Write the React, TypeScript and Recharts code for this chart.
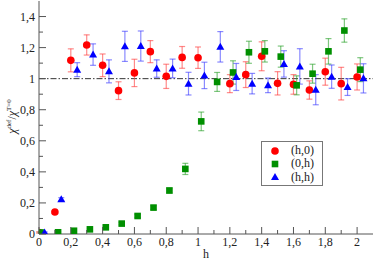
import { ErrorBar, Legend, ReferenceLine, Scatter, ScatterChart, XAxis, YAxis } from "recharts";

const RED = "#ff0000";
const GREEN = "#008f00";
const BLUE = "#0000ff";
const RED_BAR = "rgba(255,60,60,0.6)";
const GREEN_BAR = "rgba(40,160,40,0.6)";
const BLUE_BAR = "rgba(60,60,255,0.6)";
const INK = "#222";
const FRAME = "#555";
const SERIF = "'Liberation Serif', 'Times New Roman', serif";

// (h,0)
const redH = [0, 0.1, 0.2, 0.3, 0.4, 0.5, 0.6, 0.7, 0.8, 0.9, 1.0, 1.2, 1.3, 1.4, 1.5, 1.6, 1.7, 1.8, 1.9, 2.0];
const redV = [0.01, 0.142, 1.118, 1.217, 1.086, 0.923, 1.037, 1.174, 1.015, 1.137, 1.135, 0.968, 1.026, 1.144, 0.97, 0.963, 0.927, 1.045, 0.968, 1.011];
const redErr = [0.004, 0.008, 0.074, 0.065, 0.073, 0.057, 0.088, 0.071, 0.078, 0.07, 0.069, 0.058, 0.083, 0.093, 0.075, 0.063, 0.059, 0.087, 0.105, 0.084];

// (0,h)
const greenH = [0.01, 0.12, 0.22, 0.32, 0.42, 0.52, 0.62, 0.72, 0.82, 0.92, 1.02, 1.12, 1.22, 1.32, 1.42, 1.52, 1.62, 1.72, 1.82, 1.92, 2.02];
const greenV = [0.01, 0.011, 0.021, 0.03, 0.043, 0.067, 0.116, 0.17, 0.28, 0.419, 0.725, 0.979, 1.04, 1.17, 1.176, 1.142, 0.957, 1.032, 1.176, 1.31, 1.058];
const greenErr = [0.003, 0.004, 0.005, 0.006, 0.007, 0.008, 0.01, 0.012, 0.016, 0.036, 0.06, 0.061, 0.075, 0.071, 0.069, 0.068, 0.061, 0.061, 0.082, 0.075, 0.077];

// (h,h)
const blueH = [0.035, 0.14, 0.24, 0.34, 0.44, 0.54, 0.64, 0.74, 0.84, 0.94, 1.04, 1.14, 1.24, 1.34, 1.44, 1.54, 1.64, 1.74, 1.84, 1.94, 2.04];
const blueV = [0.01, 0.224, 1.058, 1.155, 1.047, 1.208, 1.21, 1.065, 1.066, 0.968, 1.021, 1.205, 1.011, 0.968, 0.957, 1.095, 1.079, 0.929, 1.013, 0.946, 1.002];
const blueErr = [0.004, 0.01, 0.045, 0.069, 0.074, 0.097, 0.097, 0.056, 0.06, 0.073, 0.085, 0.098, 0.087, 0.066, 0.047, 0.085, 0.114, 0.097, 0.075, 0.054, 0.094];

const xTicks = [0, 0.1, 0.2, 0.3, 0.4, 0.5, 0.6, 0.7, 0.8, 0.9, 1.0, 1.1, 1.2, 1.3, 1.4, 1.5, 1.6, 1.7, 1.8, 1.9, 2.0];
const yTicks = [0, 0.1, 0.2, 0.3, 0.4, 0.5, 0.6, 0.7, 0.8, 0.9, 1.0, 1.1, 1.2, 1.3, 1.4];

const toRows = (h: number[], v: number[], e: number[]) => h.map((x, i) => ({ h: x, v: v[i], e: e[i] }));

const fmt = (n: number) => String(n).replace(".", ",");
const isMajor = (n: number) => Math.round(n * 10) % 2 === 0;

function Marker({ kind, cx, cy }: { kind: string; cx: number; cy: number }) {
  if (kind === "circle") return <circle cx={cx} cy={cy} r={3.8} fill={RED} />;
  if (kind === "square") return <rect x={cx - 3.3} y={cy - 3.3} width={6.6} height={6.6} fill={GREEN} />;
  return <polygon points={`${cx},${cy - 4} ${cx - 4},${cy + 3} ${cx + 4},${cy + 3}`} fill={BLUE} />;
}

const SERIES = [
  { name: "(h,0)", kind: "circle", rows: toRows(redH, redV, redErr), bar: RED_BAR },
  { name: "(0,h)", kind: "square", rows: toRows(greenH, greenV, greenErr), bar: GREEN_BAR },
  { name: "(h,h)", kind: "triangle", rows: toRows(blueH, blueV, blueErr), bar: BLUE_BAR },
];

function XTick(props: any) {
  const { x, y, payload, top } = props;
  const len = isMajor(payload.value) ? 7 : 4;
  return (
    <g>
      <line x1={x} x2={x} y1={y} y2={top ? y + len : y - len} stroke={FRAME} />
      {!top && isMajor(payload.value) && (
        <text x={x} y={y + 12} textAnchor="middle" fill={INK} fontSize={12} fontFamily={SERIF}>
          {fmt(payload.value)}
        </text>
      )}
    </g>
  );
}

function YTick(props: any) {
  const { x, y, payload, right } = props;
  const len = isMajor(payload.value) ? 7 : 4;
  return (
    <g>
      <line x1={x} x2={right ? x - len : x + len} y1={y} y2={y} stroke={FRAME} />
      {!right && isMajor(payload.value) && (
        <text x={x - 4} y={y + 4} textAnchor="end" fill={INK} fontSize={12} fontFamily={SERIF}>
          {fmt(payload.value)}
        </text>
      )}
    </g>
  );
}

function YLabel(props: any) {
  const vb = props.viewBox;
  const cx = vb.x + 16;
  const cy = vb.y + vb.height / 2 - 1;
  return (
    <text x={cx} y={cy} transform={`rotate(-90, ${cx}, ${cy})`} textAnchor="middle" fill={INK} fontFamily={SERIF} fontSize={12}>
      <tspan fontStyle="italic">χ</tspan>
      <tspan dy={-5} fontSize={7}>def</tspan>
      <tspan dy={5}>/</tspan>
      <tspan fontStyle="italic">χ</tspan>
      <tspan dy={-5} fontSize={7}>T=0</tspan>
    </text>
  );
}

function XLabel(props: any) {
  const vb = props.viewBox;
  return (
    <text x={vb.x + vb.width / 2} y={vb.y + vb.height - 2} textAnchor="middle" fill={INK} fontFamily={SERIF} fontSize={12}>
      h
    </text>
  );
}

function LegendBox() {
  return (
    <div
      style={{
        width: 62,
        height: 45,
        boxSizing: "border-box",
        border: "1px solid #777",
        background: "#fff",
        paddingTop: 2,
        fontFamily: SERIF,
        fontSize: 12,
        color: INK,
      }}
    >
      {SERIES.map((s) => (
        <div key={s.name} style={{ display: "flex", alignItems: "center", height: 13.3 }}>
          <svg width={10} height={10} style={{ marginLeft: 8, marginRight: 11 }}>
            <Marker kind={s.kind} cx={5} cy={5} />
          </svg>
          <span>{s.name}</span>
        </div>
      ))}
    </div>
  );
}

export default function App() {
  return (
    <div style={{ position: "absolute", left: 0, top: 0, width: 374, height: 260, background: "#fff" }}>
      <ScatterChart width={374} height={260} margin={{ top: 1, right: 1, bottom: 0, left: 0 }}>
        <XAxis
          xAxisId="b"
          type="number"
          dataKey="h"
          domain={[0, 2.1]}
          allowDataOverflow
          ticks={xTicks}
          interval={0}
          tickLine={false}
          tickSize={0}
          tickMargin={0}
          height={26}
          stroke={FRAME}
          tick={(p: any) => <XTick {...p} />}
          label={<XLabel />}
        />
        <XAxis
          xAxisId="t"
          orientation="top"
          type="number"
          dataKey="h"
          domain={[0, 2.1]}
          allowDataOverflow
          ticks={xTicks}
          interval={0}
          tickLine={false}
          tickSize={0}
          tickMargin={0}
          height={0}
          stroke={FRAME}
          tick={(p: any) => <XTick {...p} top />}
        />
        <YAxis
          yAxisId="l"
          type="number"
          dataKey="v"
          domain={[0, 1.5]}
          allowDataOverflow
          ticks={yTicks}
          interval={0}
          tickLine={false}
          tickSize={0}
          tickMargin={0}
          width={39}
          stroke={FRAME}
          tick={(p: any) => <YTick {...p} />}
          label={<YLabel />}
        />
        <YAxis
          yAxisId="r"
          orientation="right"
          type="number"
          dataKey="v"
          domain={[0, 1.5]}
          allowDataOverflow
          ticks={yTicks}
          interval={0}
          tickLine={false}
          tickSize={0}
          tickMargin={0}
          width={0}
          stroke={FRAME}
          tick={(p: any) => <YTick {...p} right />}
        />
        <ReferenceLine xAxisId="b" yAxisId="l" y={1} stroke="#333" strokeDasharray="6 2 1.5 2" />
        <Legend
          layout="vertical"
          align="center"
          verticalAlign="middle"
          wrapperStyle={{ left: 261, top: 141, width: 62, height: 45 }}
          content={() => <LegendBox />}
        />
        {SERIES.map((s) => (
          <Scatter
            key={s.name}
            name={s.name}
            data={s.rows}
            xAxisId="b"
            yAxisId="l"
            isAnimationActive={false}
            shape={(p: any) => <Marker kind={s.kind} cx={p.cx} cy={p.cy} />}
          >
            <ErrorBar dataKey="e" direction="y" width={3} stroke={s.bar} strokeWidth={1.2} />
          </Scatter>
        ))}
      </ScatterChart>
    </div>
  );
}
